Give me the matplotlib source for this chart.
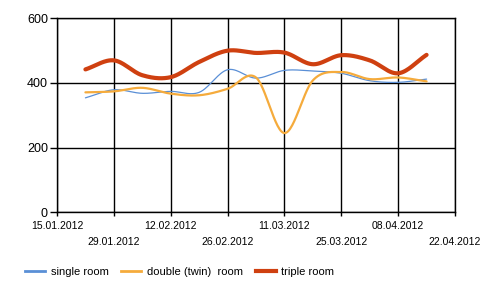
import numpy as np
import matplotlib
matplotlib.use("Agg")
import matplotlib.pyplot as plt
from matplotlib.lines import Line2D

plt.rcParams['font.family'] = ['Liberation Sans', 'DejaVu Sans']

# ---- data ----
tick_labels = ["15.01.2012", "29.01.2012", "12.02.2012", "26.02.2012",
               "11.03.2012", "25.03.2012", "08.04.2012", "22.04.2012"]
tick_days = [0, 14, 28, 42, 56, 70, 84, 98]          # days after 15.01.2012
point_days = [7, 14, 21, 28, 35, 42, 49, 56, 63, 70, 77, 84, 91]
single_room = [354, 379, 368, 374, 371, 441, 415, 439, 437, 430, 407, 402, 412]
double_room = [371, 374, 385, 367, 362, 382, 417, 245, 408, 434, 412, 417, 405]
triple_room = [442, 470, 424, 418, 465, 500, 493, 494, 458, 486, 470, 430, 487]
series_names = ["single room", "double (twin)  room", "triple room"]
colors = ["#5a8fd6", "#f5ab3c", "#cf4010"]
widths = [0.9, 1.6, 3.0]


def catmull_rom(x, y, n=30):
    x = np.asarray(x, float)
    y = np.asarray(y, float)
    px = np.concatenate([[2 * x[0] - x[1]], x, [2 * x[-1] - x[-2]]])
    py = np.concatenate([[2 * y[0] - y[1]], y, [2 * y[-1] - y[-2]]])
    xs, ys = [], []
    t = np.linspace(0, 1, n)
    for i in range(1, len(px) - 2):
        for arr, out in ((px, xs), (py, ys)):
            p0, p1, p2, p3 = arr[i - 1], arr[i], arr[i + 1], arr[i + 2]
            seg = 0.5 * ((2 * p1) + (-p0 + p2) * t +
                         (2 * p0 - 5 * p1 + 4 * p2 - p3) * t ** 2 +
                         (-p0 + 3 * p1 - 3 * p2 + p3) * t ** 3)
            out.append(seg if i == 1 else seg[1:])
    return np.concatenate(xs), np.concatenate(ys)


fig = plt.figure(figsize=(5.0, 2.96), dpi=100)
ax = fig.add_axes([0.114, 0.283, 0.796, 0.655])

for vals, c, w in zip([single_room, double_room, triple_room], colors, widths):
    sx, sy = catmull_rom(point_days, vals)
    ax.plot(sx, sy, color=c, lw=w, solid_capstyle='round', zorder=3)

ax.set_xlim(tick_days[0], tick_days[-1])
ax.set_ylim(0, 600)
ax.set_yticks([0, 200, 400, 600])
ax.tick_params(axis='y', labelsize=9, length=5, width=1, pad=1.5, colors='black')

ax.set_xticks(tick_days[0::2])
ax.set_xticklabels(tick_labels[0::2])
ax.set_xticks(tick_days[1::2], minor=True)
ax.set_xticklabels(tick_labels[1::2], minor=True)
ax.tick_params(axis='x', which='major', labelsize=7.5, length=3, width=1, pad=3.5)
ax.tick_params(axis='x', which='minor', labelsize=7.5, length=3, width=1, pad=14.5)

ax.grid(True, which='both', color='black', lw=1)
ax.set_axisbelow(True)
for s in ax.spines.values():
    s.set_color('black')
    s.set_linewidth(1)

handles = [Line2D([0], [0], color=c, lw=lw) for c, lw in zip(colors, [2, 2, 3])]
fig.legend(handles, series_names, loc='center left', bbox_to_anchor=(0.03, 0.08),
           ncol=3, frameon=False, fontsize=8, handlelength=1.8,
           handletextpad=0.5, columnspacing=1.15)

fig.savefig("out.png", dpi=100, facecolor='white')
